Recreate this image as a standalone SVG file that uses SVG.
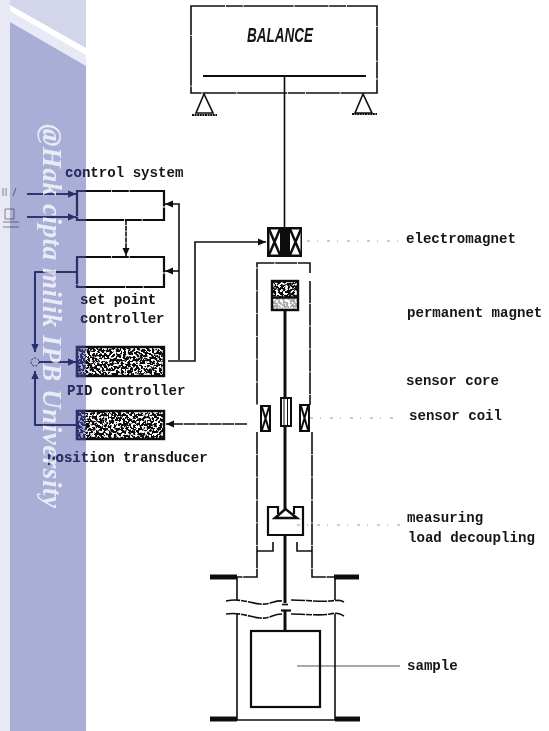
<svg xmlns="http://www.w3.org/2000/svg" width="549" height="731" viewBox="0 0 549 731">
<style>
.l{fill:none;stroke:#111;stroke-width:1.6}
.t{fill:none;stroke:#111;stroke-width:2.2}
.rod{fill:none;stroke:#111;stroke-width:3}
.bar{fill:none;stroke:#111;stroke-width:5}
.rough{stroke-dasharray:34 .8 17 .8 50 .8}
.arrow{marker-end:url(#head)}
.dot{fill:none;stroke:#999;stroke-width:1;stroke-dasharray:3 7 1 9}
.lab{font-family:"Liberation Mono",monospace;font-weight:700;font-size:14.1px;fill:#151515}
.noise{filter:url(#speckle)}
.edge{fill:none;stroke:#111;stroke-width:2.4}
</style>
<defs>
<marker id="head" markerWidth="9" markerHeight="8" refX="8" refY="4" orient="auto" markerUnits="userSpaceOnUse"><path d="M0 .5L8 4L0 7.5z" fill="#111"/></marker>
<filter id="speckle" x="0" y="0" width="1" height="1">
<feFlood flood-color="#fff" result="w"/>
<feTurbulence type="fractalNoise" baseFrequency="0.42" numOctaves="2" seed="7" result="n"/>
<feColorMatrix in="n" values="0 0 0 0 0 0 0 0 0 0 0 0 0 0 0 12 0 0 0 -6" result="m"/>
<feComposite in="w" in2="m" operator="in" result="sp"/>
<feMerge><feMergeNode in="SourceGraphic"/><feMergeNode in="sp"/></feMerge>
<feGaussianBlur stdDeviation="0.35"/>
</filter>
<filter id="soft" x="-2%" y="-2%" width="104%" height="104%"><feGaussianBlur stdDeviation="0.4"/></filter>
</defs>
<rect width="549" height="731" fill="#fff"/>
<g id="diagram" filter="url(#soft)">
<g id="connectors">
<path class="l" d="M284.500 76V227"/>
<path class="l arrow" d="M27 194H76"/>
<path class="l arrow" d="M27 217H76"/>
<path class="l arrow" stroke-dasharray="5 .8" d="M126 220V256"/>
<path class="l arrow" d="M179 360V204H165"/>
<path class="l arrow" d="M179 271H165"/>
<path class="l arrow" d="M168 361H195V242H266"/>
<path class="l arrow" d="M77 272H35V352"/>
<path class="l arrow" d="M39 362H76"/>
<path class="l arrow" d="M77 425H35V371"/>
<path class="l arrow" stroke-dasharray="12 .8" d="M247 424H166"/>
<circle cx="35" cy="362" r="4" fill="none" stroke="#333" stroke-width="1" stroke-dasharray="2 1.500"/>
<path class="dot" d="M307 241H398"/>
<path class="dot" d="M310 418H400"/>
<path class="dot" d="M297 525H400"/>
<path d="M297 666H400" fill="none" stroke="#555" stroke-width="1.200"/>
<path d="M3 188v8M6 188v8M13 196l3-8M5 209h9v10h-9zM3 222h16M3 227h16" fill="none" stroke="#8a8a9a" stroke-width="1"/>
</g>
<g id="balance">
<rect class="l rough" x="191" y="6" width="186" height="87"/>
<path class="t" d="M203 76H366"/>
<text x="247" y="42" font-family="'Liberation Sans',sans-serif" font-size="21" font-style="italic" font-weight="700" textLength="66" lengthAdjust="spacingAndGlyphs" fill="#151515">BALANCE</text>
<path class="l" d="M204 94L196 113H213ZM363 94L355 113H372Z"/>
<path class="t" stroke-dasharray="2 .6" d="M192 115H217M352 114H377"/>
</g>
<g id="control-system">
<rect class="t rough" x="77" y="191" width="87" height="29"/>
<text class="lab" x="65" y="177">control system</text>
</g>
<g id="set-point-controller">
<rect class="t rough" x="77" y="257" width="87" height="30"/>
<text class="lab" x="80" y="304">set point</text>
<text class="lab" x="80" y="323">controller</text>
</g>
<g id="pid-controller">
<rect class="noise" x="77" y="347" width="87" height="29" fill="#111"/>
<rect class="edge" x="77" y="347" width="87" height="29"/>
<text class="lab" x="67" y="395">PID controller</text>
</g>
<g id="position-transducer">
<rect class="noise" x="77" y="411" width="87" height="28" fill="#111"/>
<rect class="edge" x="77" y="411" width="87" height="28"/>
<text class="lab" x="47" y="462">position transducer</text>
</g>
<g id="electromagnet">
<rect x="267" y="227" width="35" height="30" fill="#111"/>
<rect x="269.500" y="229.500" width="10.500" height="25" fill="#fff"/>
<rect x="290" y="229.500" width="10.500" height="25" fill="#fff"/>
<path d="M269 229L280 255M280 229L269 255M290 229L301 255M301 229L290 255" stroke="#111" stroke-width="2.500"/>
<text class="lab" x="406" y="243">electromagnet</text>
</g>
<g id="permanent-magnet">
<rect class="noise" x="272" y="281" width="26" height="29" fill="#111"/>
<rect x="272" y="298" width="26" height="12" fill="#fff" fill-opacity=".65"/>
<path d="M272 297.500H298" stroke="#111" stroke-width="2.500"/>
<rect class="edge" x="272" y="281" width="26" height="29"/>
<text class="lab" x="407" y="317">permanent magnet</text>
</g>
<g id="housing">
<path class="l" stroke-dasharray="22 .8" d="M310 273V263H257V405M310 281V405M257 432V577H210M312 432V577H359"/>
<path class="bar" d="M210 577H237M334 577H359M210 719H237M335 719H360"/>
<path class="l" d="M237 577V600M335 577V600M237 614V720H335V614M257 551H273V542M312 551H297V542"/>
<path class="l" stroke-dasharray="14 1 6 1" d="M226 601C240 598 250 603 260 604S275 600 282 601M291 600C305 600 320 602 330 601S340 600 344 602M226 614C240 612 250 617 260 618S272 614 282 614M291 614C305 614 320 616 330 614S340 614 344 616"/>
</g>
<g id="sensor-core">
<rect x="281" y="398" width="10" height="28" fill="#fff" stroke="#111" stroke-width="2"/>
<path d="M284 399V425M287.500 399V425" stroke="#111" stroke-width="1"/>
<path class="rod" d="M285 310V398M285 426V510"/>
<text class="lab" x="406" y="385">sensor core</text>
</g>
<g id="sensor-coil">
<rect x="260" y="405" width="11" height="27" fill="#111"/>
<rect x="299" y="404" width="11" height="28" fill="#111"/>
<rect x="262" y="407" width="7" height="23" fill="#fff"/>
<rect x="301" y="406" width="7" height="24" fill="#fff"/>
<path d="M262 407L269 430M269 407L262 430M301 406L308 430M308 406L301 430" stroke="#111" stroke-width="2"/>
<text class="lab" x="409" y="420">sensor coil</text>
</g>
<g id="measuring-load-decoupling">
<path class="t" d="M278 514V507H268V535H303V507H294V514"/>
<path d="M285.500 509L275 518H297Z" fill="#fff" stroke="#111" stroke-width="2.500"/>
<path class="rod" d="M285 535V603M285 610V631"/>
<path class="l" d="M282 604.500H288"/>
<path class="t" d="M281 610.500H291"/>
<text class="lab" x="407" y="522">measuring</text>
<text class="lab" x="408" y="542">load decoupling</text>
</g>
<g id="sample">
<rect class="t" x="251" y="631" width="69" height="76"/>
<text class="lab" x="407" y="670">sample</text>
</g>
</g>
<g id="band">
<path fill="#e9e9f5" d="M0 0H10V731H0Z" style="mix-blend-mode:multiply"/>
<path fill="#d3d5ea" d="M10 0H86V48L10 5Z" style="mix-blend-mode:multiply"/>
<path fill="#e9e9f5" d="M10 11L86 55V66L10 22Z" style="mix-blend-mode:multiply"/>
<path fill="#a8aed6" d="M10 22L86 66V731H10Z" style="mix-blend-mode:multiply"/>
<path fill="#2a2f6e" d="M10 22L86 66V731H10Z" style="mix-blend-mode:lighten"/>
<text transform="translate(43 124) rotate(90)" font-family="'Liberation Serif',serif" font-size="27" font-weight="700" font-style="italic" textLength="384" fill="#fff" fill-opacity=".75">@Hak cipta milik IPB University</text>
</g>
</svg>
